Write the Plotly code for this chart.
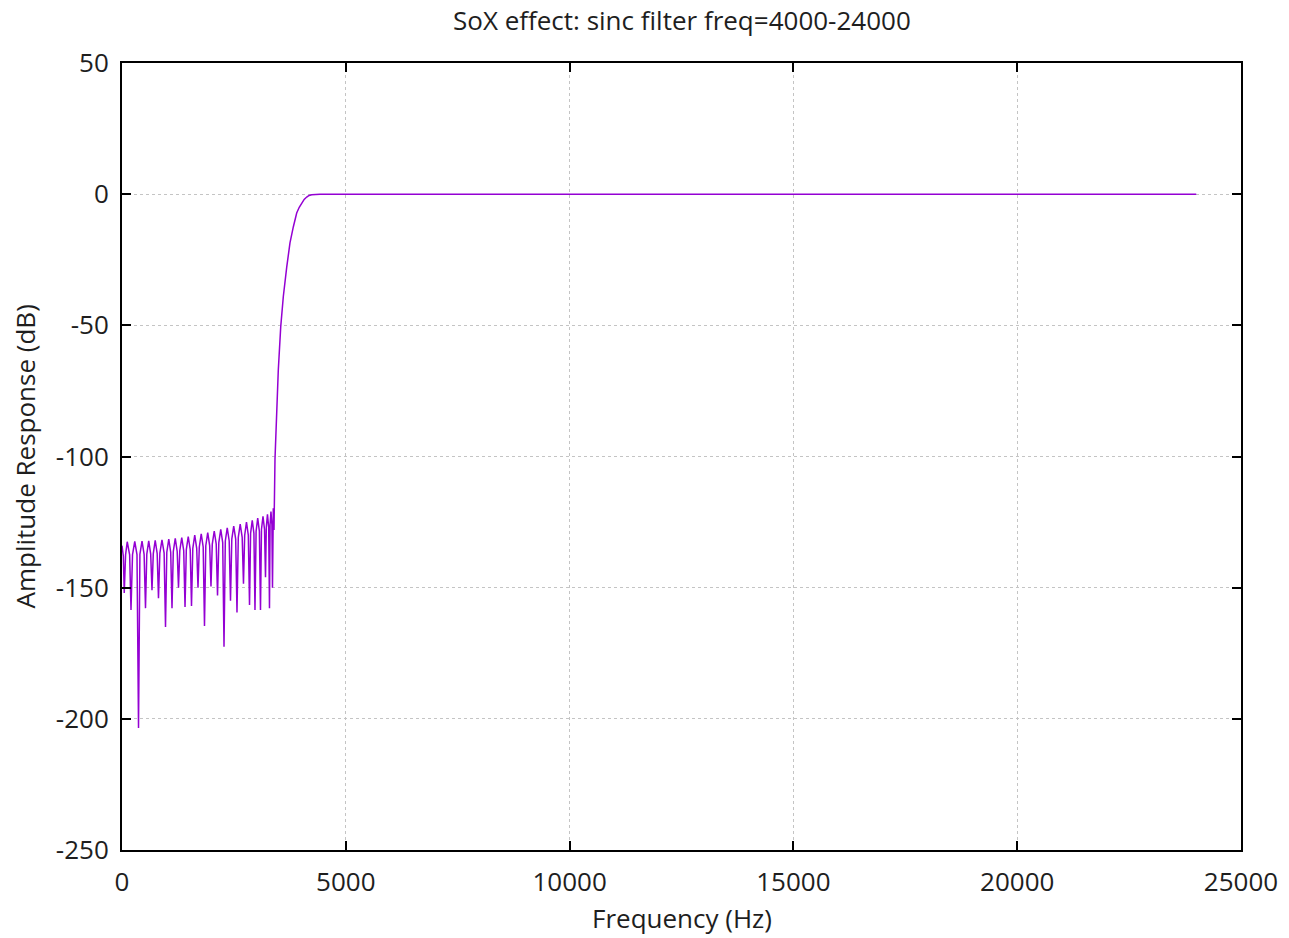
import plotly.graph_objects as go

# Frequency (Hz) and amplitude response (dB)
freq_hz = [0, 30, 50,
           80, 117, 171, 201,
           235, 285, 335, 369,
           400, 447, 494, 525,
           554, 597, 641, 670,
           699, 742, 786, 815,
           846, 893, 941, 972,
           1001, 1045, 1088, 1117,
           1146, 1190, 1233, 1262,
           1291, 1335, 1379, 1408,
           1437, 1480, 1524, 1553,
           1582, 1625, 1669, 1698,
           1727, 1770, 1814, 1843,
           1872, 1915, 1959, 1988,
           2017, 2061, 2105, 2134,
           2163, 2206, 2250, 2279,
           2308, 2351, 2395, 2424,
           2453, 2496, 2540, 2569,
           2598, 2641, 2685, 2714,
           2741, 2781, 2822, 2849,
           2873, 2910, 2947, 2971,
           2996, 3032, 3069, 3094,
           3116, 3150, 3184, 3206,
           3224, 3250, 3277, 3295,
           3308, 3328, 3349, 3362,
           3372, 3380, 3390, 3396,
           3418, 3456, 3492, 3546, 3604, 3680, 3753, 3827,
           3903, 3960, 4015, 4070, 4127, 4180, 4238, 4330, 4424, 24000]
response_db = [-134, -138, -152,
               -137.5, -132.5, -137.5, -158.5,
               -137.4, -132.4, -137.4, -203.5,
               -137.3, -132.3, -137.3, -157.8,
               -137.2, -132.2, -137.2, -151,
               -137.0, -132.0, -137.0, -154,
               -136.8, -131.8, -136.8, -165,
               -136.5, -131.5, -136.5, -157.8,
               -136.2, -131.2, -136.2, -150,
               -135.9, -130.9, -135.9, -157.4,
               -135.5, -130.5, -135.5, -157,
               -135.0, -130.0, -135.0, -150,
               -134.5, -129.5, -134.5, -164.6,
               -134.0, -129.0, -134.0, -149.5,
               -133.4, -128.4, -133.4, -153,
               -132.8, -127.8, -132.8, -172.5,
               -132.2, -127.2, -132.2, -155,
               -131.5, -126.5, -131.5, -159.5,
               -130.8, -125.8, -130.8, -148.5,
               -130.0, -125.0, -130.0, -156.6,
               -129.3, -124.3, -129.3, -158.5,
               -128.5, -123.5, -128.5, -158.5,
               -127.8, -122.8, -127.8, -146,
               -127.0, -122.0, -127.0, -157.8,
               -126.0, -121.0, -126.0, -150,
               -125.0, -119.7, -123.0, -128,
               -101, -79.6, -67, -50.6, -39, -27.8, -18.6, -12.5,
               -7.2, -5.0, -3.4, -2.0, -1.1, -0.5, -0.2, -0.05, 0, 0]

x_ticks = [0, 5000, 10000, 15000, 20000, 25000]
y_ticks = [-250, -200, -150, -100, -50, 0, 50]

title_text = "SoX effect: sinc filter freq=4000-24000"
x_title = "Frequency (Hz)"
y_title = "Amplitude Response (dB)"

FONT = "Open Sans, DejaVu Sans, sans-serif"
FS = 26
TXT = "#1e1e1e"

fig = go.Figure()
fig.add_trace(go.Scatter(
    x=freq_hz, y=response_db, mode="lines",
    line=dict(color="#9400D3", width=1.5),
    showlegend=False,
))

axis_common = dict(
    showline=True, linecolor="black", linewidth=2, mirror="ticks",
    ticks="inside", ticklen=9, tickwidth=1.5, tickcolor="black",
    showgrid=True, gridcolor="#c4c4c4", griddash="dot", gridwidth=1,
    zeroline=False,
    tickfont=dict(family=FONT, size=FS, color=TXT),
)

fig.update_xaxes(range=[0, 25000], tickvals=x_ticks, ticktext=[str(v) for v in x_ticks],
                 ticklabelstandoff=8, **axis_common)
fig.update_yaxes(range=[-250, 50], tickvals=y_ticks, ticktext=[str(v) for v in y_ticks],
                 ticklabelstandoff=6, **axis_common)

fig.update_layout(
    width=1289, height=938,
    margin=dict(l=122, r=48, t=63, b=88),
    plot_bgcolor="white", paper_bgcolor="white",
    font=dict(family=FONT, size=FS, color=TXT),
    annotations=[
        dict(text=title_text, xref="paper", yref="paper", x=0.5, y=1, yshift=43,
             showarrow=False, font=dict(family=FONT, size=FS, color=TXT),
             xanchor="center", yanchor="middle"),
        dict(text=x_title, xref="paper", yref="paper", x=0.5, y=0, yshift=-68,
             showarrow=False, font=dict(family=FONT, size=FS, color=TXT),
             xanchor="center", yanchor="middle"),
        dict(text=y_title, xref="paper", yref="paper", x=0, y=0.5, xshift=-98,
             showarrow=False, textangle=-90, font=dict(family=FONT, size=FS, color=TXT),
             xanchor="center", yanchor="middle"),
    ],
)

fig.write_html("out.html")
